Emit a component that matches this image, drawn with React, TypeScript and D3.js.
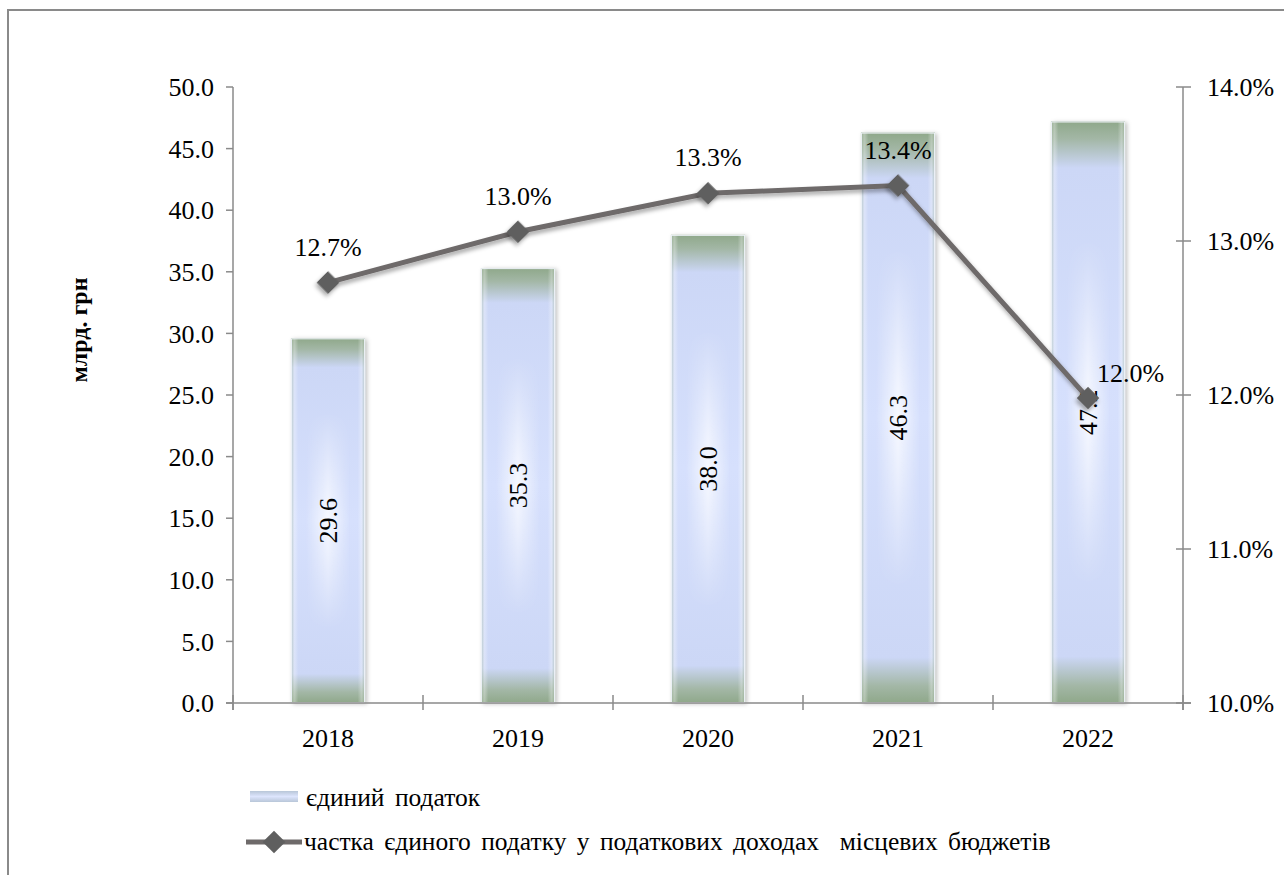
import React from "react";
import * as d3 from "d3";

const years = ["2018", "2019", "2020", "2021", "2022"];
const taxValues = [29.6, 35.3, 38.0, 46.3, 47.2];
const shareValues = [12.73, 13.06, 13.31, 13.36, 11.98];
const shareLabels = ["12.7%", "13.0%", "13.3%", "13.4%", "12.0%"];
const leftTicks = [0, 5, 10, 15, 20, 25, 30, 35, 40, 45, 50];
const rightTicks = [10, 11, 12, 13, 14];
const barSeriesName = "єдиний податок";
const lineSeriesName = "частка єдиного податку у податкових доходах  місцевих бюджетів";
const yTitle = "млрд. грн";

const W = 1284;
const H = 875;
const left = 233;
const right = 1183;
const top = 87;
const bottom = 703;
const FONT = "'Liberation Serif', 'Times New Roman', serif";
const AXIS = "#8a8a8a";

export default function App() {
  const x = d3.scaleBand<string>().domain(years).range([left, right]).paddingInner(0.61).paddingOuter(0.305);
  const yL = d3.scaleLinear().domain([0, 50]).range([bottom, top]);
  const yR = d3.scaleLinear().domain([10, 14]).range([bottom, top]);
  const cx = (d: string) => (x(d) as number) + x.bandwidth() / 2;
  const line = d3
    .line<number>()
    .x((_, i) => cx(years[i]))
    .y((v) => yR(v));
  const step = x.step();
  const boundaries = d3.range(years.length + 1).map((i) => left + i * step);

  return (
    <svg width={W} height={H} style={{ position: "absolute", left: 0, top: 0, fontFamily: FONT }}>
      <defs>
        <linearGradient id="barV" x1="0" y1="0" x2="0" y2="1">
          <stop offset="0" stopColor="#8fa88a" />
          <stop offset="0.03" stopColor="#a3b7a6" />
          <stop offset="0.08" stopColor="#ccd7f6" />
          <stop offset="0.5" stopColor="#d6e0fd" />
          <stop offset="0.92" stopColor="#ccd7f6" />
          <stop offset="0.97" stopColor="#a3b7a6" />
          <stop offset="1" stopColor="#8fa88a" />
        </linearGradient>
        <linearGradient id="barGlowH" x1="0" y1="0" x2="1" y2="0">
          <stop offset="0.2" stopColor="#ffffff" stopOpacity="0" />
          <stop offset="0.5" stopColor="#ffffff" stopOpacity="0.8" />
          <stop offset="0.8" stopColor="#ffffff" stopOpacity="0" />
        </linearGradient>
        <linearGradient id="glowMask" x1="0" y1="0" x2="0" y2="1">
          <stop offset="0.2" stopColor="#fff" stopOpacity="0" />
          <stop offset="0.5" stopColor="#fff" stopOpacity="1" />
          <stop offset="0.8" stopColor="#fff" stopOpacity="0" />
        </linearGradient>
        <mask id="gm" maskContentUnits="objectBoundingBox">
          <rect x="0" y="0" width="1" height="1" fill="url(#glowMask)" />
        </mask>
        <linearGradient id="barH" x1="0" y1="0" x2="1" y2="0">
          <stop offset="0" stopColor="#8fa88a" stopOpacity="0.5" />
          <stop offset="0.05" stopColor="#ffffff" stopOpacity="0.3" />
          <stop offset="0.1" stopColor="#ffffff" stopOpacity="0" />
          <stop offset="0.9" stopColor="#ffffff" stopOpacity="0" />
          <stop offset="0.95" stopColor="#ffffff" stopOpacity="0.3" />
          <stop offset="1" stopColor="#8fa88a" stopOpacity="0.5" />
        </linearGradient>
        <linearGradient id="legendBar" x1="0" y1="0" x2="0" y2="1">
          <stop offset="0" stopColor="#b8c6d8" />
          <stop offset="0.5" stopColor="#dde5fd" />
          <stop offset="1" stopColor="#b8c6d8" />
        </linearGradient>
        <filter id="shadow" x="-20%" y="-5%" width="140%" height="110%">
          <feDropShadow dx="2" dy="1" stdDeviation="2" floodColor="#000" floodOpacity="0.25" />
        </filter>
        <filter id="mshadow" x="-50%" y="-50%" width="200%" height="200%">
          <feDropShadow dx="1" dy="3" stdDeviation="2" floodColor="#000" floodOpacity="0.35" />
        </filter>
      </defs>

      <rect x={8} y={10} width={1300} height={900} fill="#fff" stroke={AXIS} strokeWidth={2} />

      {/* bars */}
      {years.map((yr, i) => {
        const bx = x(yr) as number;
        const by = yL(taxValues[i]);
        const bh = bottom - by;
        const bw = x.bandwidth();
        return (
          <g key={yr}>
            <rect x={bx} y={by} width={bw} height={bh} fill="url(#barV)" filter="url(#shadow)" />
            <rect x={bx} y={by} width={bw} height={bh} fill="url(#barGlowH)" mask="url(#gm)" />
            <rect x={bx} y={by} width={bw} height={bh} fill="url(#barH)" />
            <rect x={bx + 0.5} y={by + 0.5} width={bw - 1} height={bh - 1} fill="none" stroke="#eef2f8" strokeWidth={1} />
          </g>
        );
      })}

      {/* left axis */}
      <line x1={left} x2={left} y1={top} y2={bottom + 7} stroke={AXIS} strokeWidth={1.5} />
      {leftTicks.map((t) => (
        <g key={"l" + t}>
          <line x1={left - 7} x2={left} y1={yL(t)} y2={yL(t)} stroke={AXIS} strokeWidth={1.5} />
          <text x={214} y={yL(t)} dy="0.35em" textAnchor="end" fontSize={26} fill="#000">
            {t.toFixed(1)}
          </text>
        </g>
      ))}

      {/* right axis */}
      <line x1={right} x2={right} y1={top} y2={bottom + 7} stroke={AXIS} strokeWidth={1.5} />
      {rightTicks.map((t) => (
        <g key={"r" + t}>
          <line x1={right - 7} x2={right + 8} y1={yR(t)} y2={yR(t)} stroke={AXIS} strokeWidth={1.5} />
          <text x={1207} y={yR(t)} dy="0.35em" textAnchor="start" fontSize={26} fill="#000">
            {t.toFixed(1) + "%"}
          </text>
        </g>
      ))}

      {/* x axis */}
      <line x1={left - 7} x2={right + 8} y1={bottom} y2={bottom} stroke={AXIS} strokeWidth={1.5} />
      {boundaries.map((bx, i) => (
        <line key={"xt" + i} x1={bx} x2={bx} y1={bottom - 8} y2={bottom + 7} stroke={AXIS} strokeWidth={1.5} />
      ))}
      {years.map((yr) => (
        <text key={"xl" + yr} x={cx(yr)} y={747} textAnchor="middle" fontSize={26} fill="#000">
          {yr}
        </text>
      ))}

      {/* bar value labels */}
      {years.map((yr, i) => {
        const mid = (yL(taxValues[i]) + bottom) / 2;
        return (
          <text
            key={"bv" + yr}
            transform={`translate(${cx(yr)},${mid}) rotate(-90)`}
            textAnchor="middle"
            dy="0.35em"
            fontSize={26}
            fill="#000"
          >
            {taxValues[i].toFixed(1)}
          </text>
        );
      })}

      {/* line */}
      <path d={line(shareValues) as string} fill="none" stroke="#6e6a6a" strokeWidth={5} filter="url(#mshadow)" />
      {shareValues.map((v, i) => (
        <rect
          key={"m" + i}
          x={cx(years[i]) - 8}
          y={yR(v) - 8}
          width={16}
          height={16}
          fill="#5f5f5f"
          transform={`rotate(45 ${cx(years[i])} ${yR(v)})`}
          filter="url(#mshadow)"
        />
      ))}
      {shareValues.map((v, i) => {
        const last = i === shareValues.length - 1;
        return (
          <text
            key={"pl" + i}
            x={last ? cx(years[i]) + 9 : cx(years[i])}
            y={last ? yR(v) - 16 : yR(v) - 27}
            textAnchor={last ? "start" : "middle"}
            fontSize={26}
            fill="#000"
          >
            {shareLabels[i]}
          </text>
        );
      })}

      {/* y title */}
      <text transform={`translate(87,330) rotate(-90)`} textAnchor="middle" fontSize={24} fontWeight="bold" fill="#000">
        {yTitle}
      </text>

      {/* legend */}
      <rect x={250} y={791} width={48} height={11} fill="url(#legendBar)" />
      <text x={306} y={806} fontSize={25.5} wordSpacing={4} fill="#000">
        {barSeriesName}
      </text>
      <line x1={246} x2={302} y1={842} y2={842} stroke="#6e6a6a" strokeWidth={5} />
      <rect x={266} y={834} width={16} height={16} fill="#5f5f5f" transform="rotate(45 274 842)" />
      <text x={304} y={850} fontSize={25.5} wordSpacing={4} fill="#000" style={{ whiteSpace: "pre" }}>
        {lineSeriesName}
      </text>
    </svg>
  );
}
